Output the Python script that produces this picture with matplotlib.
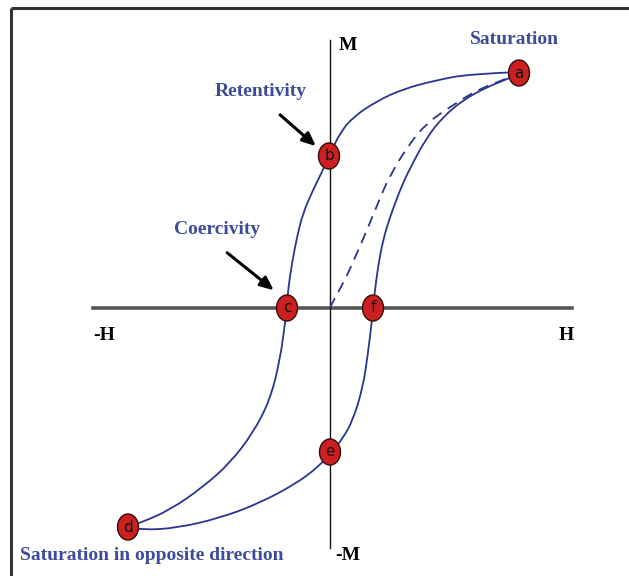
import matplotlib
matplotlib.use("Agg")
import matplotlib.pyplot as plt
from matplotlib.patches import Ellipse, PathPatch
from matplotlib.path import Path

# pixel readings from the picture; origin of the H-M axes sits at (330, 308)
upper_px = [(518, 72), (470, 74), (437, 80), (403, 89), (377, 101), (353, 117),
            (340, 133), (331, 152), (322, 172), (313, 190), (303, 213), (297, 237),
            (292, 263), (288, 290), (287, 308), (285, 323), (280, 360), (270, 400),
            (253, 433), (230, 463), (203, 487), (170, 510), (140, 523), (128, 527)]
lower_px = [(128, 528), (143, 530), (177, 528), (220, 518), (260, 503), (297, 483),
            (318, 467), (332, 452), (343, 438), (353, 420), (363, 387), (368, 353),
            (372, 320), (373, 308), (375, 290), (378, 267), (383, 240), (390, 217),
            (400, 190), (410, 168), (427, 137), (443, 117), (463, 100), (487, 87),
            (510, 78), (518, 74)]
initial_px = [(330, 308), (332, 303), (345, 280), (357, 253), (367, 230), (378, 203),
              (390, 175), (410, 143), (427, 123), (450, 107), (477, 90), (503, 80), (515, 75)]

point_names = ["a", "b", "c", "d", "e", "f"]
point_px = [(519, 73), (329, 156), (287, 308), (128, 527), (330, 452), (373, 308)]


def to_hm(pts):
    # pixel -> H, M units (100 px per unit)
    return [((x - 330) / 100, (308 - y) / 100) for x, y in pts]


def smooth_path(pts):
    # read points used as quadratic control points, curve passes through midpoints
    verts = [pts[0]]
    codes = [Path.MOVETO]
    for i in range(1, len(pts) - 1):
        mid = ((pts[i][0] + pts[i + 1][0]) / 2, (pts[i][1] + pts[i + 1][1]) / 2)
        if i == len(pts) - 2:
            mid = pts[-1]
        verts += [pts[i], mid]
        codes += [Path.CURVE3, Path.CURVE3]
    return Path(verts, codes)


blue = "#2b3590"
text_blue = "#3d4b9e"
red = "#cc2020"

fig = plt.figure(figsize=(6.29, 5.76), dpi=100)
ax = fig.add_axes([0, 0, 1, 1])
ax.set_xlim(-3.30, 2.99)
ax.set_ylim(-2.68, 3.08)
ax.axis("off")

# frame (top and left edges only are visible)
ax.plot([-3.19, 2.99], [3.00, 3.00], color="#333333", lw=2.2, solid_capstyle="butt")
ax.plot([-3.19, -3.19], [3.00, -2.68], color="#333333", lw=2.2, solid_capstyle="butt")

# axes lines
ax.plot([-2.37, 2.42], [0, 0], color="#555555", lw=2.6, zorder=2)
ax.plot([0, 0], [2.68, -2.40], color="#111111", lw=1.0, zorder=2)

# loop
for pts, style in [(upper_px, "-"), (lower_px, "-"), (initial_px, (0, (6, 4)))]:
    ax.add_patch(PathPatch(smooth_path(to_hm(pts)), facecolor="none", edgecolor=blue,
                           lw=1.3, ls=style, zorder=3))

# labelled points
for name, (h, m) in zip(point_names, to_hm(point_px)):
    ax.add_patch(Ellipse((h, m), 0.21, 0.26, facecolor=red, edgecolor="#3a0808",
                         lw=1.0, zorder=5))
    ax.text(h, m, name, ha="center", va="center", fontsize=11,
            color="#111111", family="DejaVu Sans", zorder=6)

# arrows
ax.annotate("", xy=((318 - 330) / 100, (308 - 148) / 100),
            xytext=((278 - 330) / 100, (308 - 113) / 100),
            arrowprops=dict(arrowstyle="-|>,head_length=0.8,head_width=0.35",
                        color="black", lw=2.2), zorder=4)
ax.annotate("", xy=((276 - 330) / 100, (308 - 292) / 100),
            xytext=((225 - 330) / 100, (308 - 251) / 100),
            arrowprops=dict(arrowstyle="-|>,head_length=0.8,head_width=0.35",
                        color="black", lw=2.2), zorder=4)

serif = "Liberation Serif"
ax.text((514 - 330) / 100, (308 - 39) / 100, "Saturation", ha="center", va="center",
        fontsize=14, fontweight="bold", color=text_blue, family=serif)
ax.text((261 - 330) / 100, (308 - 92) / 100, "Retentivity", ha="center", va="center",
        fontsize=14, fontweight="bold", color=text_blue, family=serif)
ax.text((217 - 330) / 100, (308 - 230) / 100, "Coercivity", ha="center", va="center",
        fontsize=14, fontweight="bold", color=text_blue, family=serif)
ax.text((20 - 330) / 100, (308 - 555) / 100, "Saturation in opposite direction",
        ha="left", va="center", fontsize=14, fontweight="bold", color=text_blue,
        family=serif)

ax.text((348 - 330) / 100, (308 - 46) / 100, "M", ha="center", va="center",
        fontsize=14, fontweight="bold", color="black", family=serif)
ax.text((348 - 330) / 100, (308 - 555) / 100, "-M", ha="center", va="center",
        fontsize=14, fontweight="bold", color="black", family=serif)
ax.text((104 - 330) / 100, (308 - 335) / 100, "-H", ha="center", va="center",
        fontsize=14, fontweight="bold", color="black", family=serif)
ax.text((566 - 330) / 100, (308 - 335) / 100, "H", ha="center", va="center",
        fontsize=14, fontweight="bold", color="black", family=serif)

fig.savefig("out.png", dpi=100, facecolor="white")
